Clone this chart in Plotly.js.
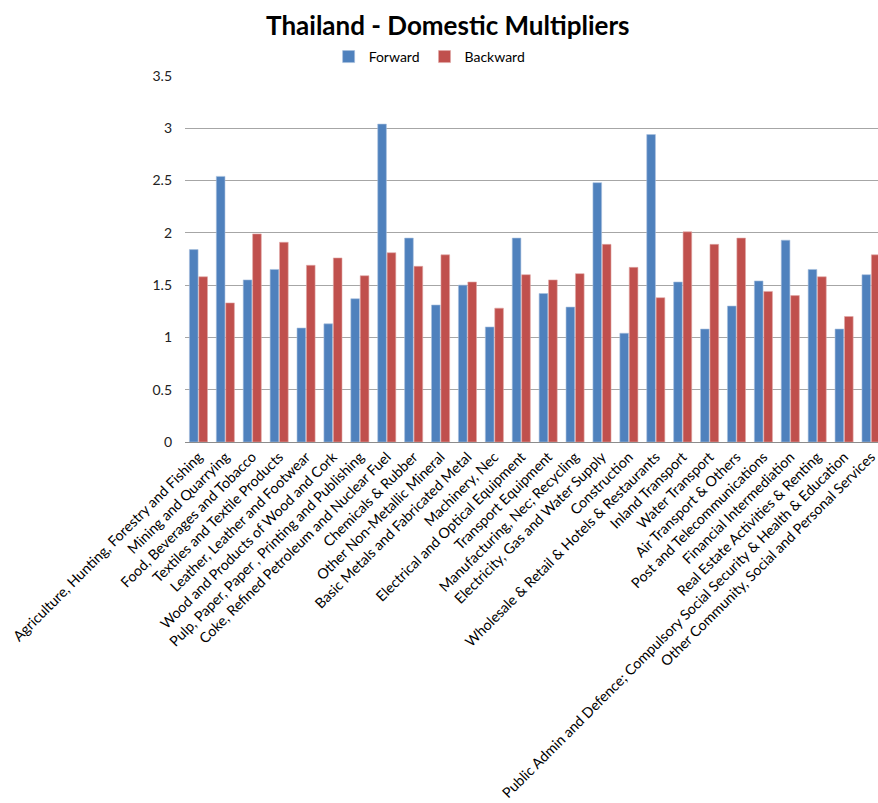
<!DOCTYPE html>
<html>
<head>
<meta charset="utf-8">
<script src="https://cdn.plot.ly/plotly-3.0.1.min.js"></script>
<style>html,body{margin:0;padding:0;background:#fff;}#chart{width:878px;height:803px;}</style>
</head>
<body>
<div id="chart"></div>
<script>
const categories = [
  "Agriculture, Hunting, Forestry and Fishing",
  "Mining and Quarrying",
  "Food, Beverages and Tobacco",
  "Textiles and Textile Products",
  "Leather, Leather and Footwear",
  "Wood and Products of Wood and Cork",
  "Pulp, Paper, Paper , Printing and Publishing",
  "Coke, Refined Petroleum and Nuclear Fuel",
  "Chemicals & Rubber",
  "Other Non-Metallic Mineral",
  "Basic Metals and Fabricated Metal",
  "Machinery, Nec",
  "Electrical and Optical Equipment",
  "Transport Equipment",
  "Manufacturing, Nec; Recycling",
  "Electricity, Gas and Water Supply",
  "Construction",
  "Wholesale & Retail & Hotels & Restaurants",
  "Inland Transport",
  "Water Transport",
  "Air Transport & Others",
  "Post and Telecommunications",
  "Financial Intermediation",
  "Real Estate Activities & Renting",
  "Public Admin and Defence; Compulsory Social Security & Health & Education",
  "Other Community, Social and Personal Services"
];
const forward = [1.84, 2.54, 1.55, 1.65, 1.09, 1.13, 1.37, 3.04, 1.95, 1.31, 1.50, 1.10, 1.95,
                 1.42, 1.29, 2.48, 1.04, 2.94, 1.53, 1.08, 1.30, 1.54, 1.93, 1.65, 1.08, 1.60];
const backward = [1.58, 1.33, 1.99, 1.91, 1.69, 1.76, 1.59, 1.81, 1.68, 1.79, 1.53, 1.28, 1.60,
                  1.55, 1.61, 1.89, 1.67, 1.38, 2.01, 1.89, 1.95, 1.44, 1.40, 1.58, 1.20, 1.79];
const yTicks = [0, 0.5, 1, 1.5, 2, 2.5, 3, 3.5];
const yTickText = ["0", "0.5", "1", "1.5", "2", "2.5", "3", "3.5"];

const FONT = "Lato, 'Open Sans', sans-serif";
const idx = categories.map((c, i) => i);

const traces = [
  {type: "bar", name: "Forward", x: idx, y: forward,
   marker: {color: "#4F81BD", line: {color: "#A7C0DE", width: 0.6}}},
  {type: "bar", name: "Backward", x: idx, y: backward,
   marker: {color: "#C0504D", line: {color: "#E0A8A6", width: 0.6}}}
];

const layout = {
  width: 878, height: 803,
  paper_bgcolor: "#fff", plot_bgcolor: "#fff",
  margin: {l: 185, r: 0, t: 76, b: 361, pad: 0},
  font: {family: FONT, color: "#000"},
  title: {text: "<b>Thailand - Domestic Multipliers</b>", font: {family: FONT, size: 26, color: "#000"},
          x: 0.51, xref: "container", xanchor: "center", y: 0.968, yref: "container", yanchor: "middle"},
  showlegend: true,
  legend: {orientation: "h", x: 0.353, xanchor: "center", y: 1.052, yanchor: "middle",
           font: {family: FONT, size: 14, color: "#000"}, itemwidth: 30, traceorder: "normal"},
  barmode: "group", bargap: 0.3, bargroupgap: 0.08,
  xaxis: {
    range: [-0.5, 25.26], tickmode: "array", tickvals: idx, ticktext: categories,
    tickangle: -45, tickfont: {family: FONT, size: 14.3, color: "#000"},
    ticklabeloverflow: "allow",
    showgrid: false, showline: true, linecolor: "#8c8c8c", linewidth: 1,
    ticks: "", zeroline: false, fixedrange: true
  },
  yaxis: {
    range: [0, 3.5], tickmode: "array", tickvals: yTicks, ticktext: yTickText,
    tickfont: {family: FONT, size: 14, color: "#222"},
    showgrid: true, gridcolor: "#A6A6A6", gridwidth: 1, zeroline: false,
    showline: false, ticks: "", ticklabelstandoff: 12, fixedrange: true
  }
};

Plotly.newPlot("chart", traces, layout, {displayModeBar: false, staticPlot: true});
</script>
</body>
</html>
